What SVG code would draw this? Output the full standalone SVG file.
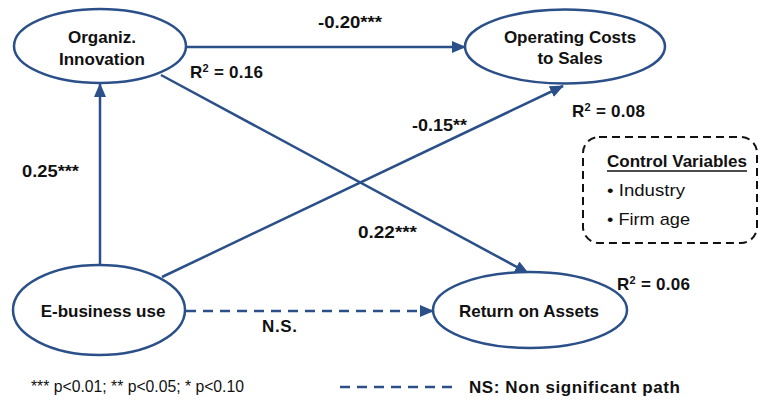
<svg xmlns="http://www.w3.org/2000/svg" width="761" height="401" viewBox="0 0 761 401">
<defs>
<marker id="ah" markerWidth="14" markerHeight="12" refX="13" refY="6" orient="auto" markerUnits="userSpaceOnUse">
<path d="M0,0 L14,6 L0,12 Z" fill="#2B5089"/>
</marker>
<style>
.node ellipse{fill:#fff;stroke:#2B5089;stroke-width:2.5}
.lbl{font-family:"Liberation Sans",Arial,sans-serif;font-weight:bold;font-size:17px;fill:#111;text-anchor:middle}
.coef{font-family:"Liberation Sans",Arial,sans-serif;font-weight:bold;font-size:17px;fill:#111}
.reg{font-family:"Liberation Sans",Arial,sans-serif;font-size:17px;fill:#111}
.foot{font-family:"Liberation Sans",Arial,sans-serif;font-size:15.8px;fill:#111}
.edge{stroke:#2B5089;stroke-width:2.5;fill:none}
.dash{stroke-dasharray:10,7}
</style>
</defs>
<rect width="761" height="401" fill="#fff"/>
<g id="connectors">
<line class="edge" x1="186" y1="47" x2="465" y2="47" marker-end="url(#ah)"/>
<line class="edge" x1="100" y1="265" x2="100" y2="84" marker-end="url(#ah)"/>
<line class="edge" x1="162" y1="277" x2="563" y2="86" marker-end="url(#ah)"/>
<line class="edge" x1="161" y1="75" x2="528" y2="273" marker-end="url(#ah)"/>
<line class="edge dash" x1="186" y1="311" x2="433" y2="311" marker-end="url(#ah)"/>
</g>
<g id="org" class="node">
<ellipse cx="100" cy="46" rx="86" ry="37"/>
<text class="lbl" x="102" y="43">Organiz.</text>
<text class="lbl" x="102" y="65">Innovation</text>
</g>
<g id="opcost" class="node">
<ellipse cx="565" cy="46.5" rx="100" ry="37"/>
<text class="lbl" x="570" y="43">Operating Costs</text>
<text class="lbl" x="570" y="64">to Sales</text>
</g>
<g id="ebiz" class="node">
<ellipse cx="99" cy="310" rx="86" ry="45"/>
<text class="lbl" x="103" y="317">E-business use</text>
</g>
<g id="roa" class="node">
<ellipse cx="530" cy="310" rx="97" ry="38"/>
<text class="lbl" x="529" y="317">Return on Assets</text>
</g>
<g id="labels">
<text class="coef" x="318" y="28" textLength="64" lengthAdjust="spacingAndGlyphs">-0.20***</text>
<text class="coef" x="190" y="78" textLength="73">R<tspan font-size="11" dy="-6">2</tspan><tspan dy="6"> = 0.16</tspan></text>
<text class="coef" x="412" y="131" textLength="55" lengthAdjust="spacingAndGlyphs">-0.15**</text>
<text class="coef" x="572" y="117" textLength="73">R<tspan font-size="11" dy="-6">2</tspan><tspan dy="6"> = 0.08</tspan></text>
<text class="coef" x="22" y="177" textLength="57" lengthAdjust="spacingAndGlyphs">0.25***</text>
<text class="coef" x="358" y="238" textLength="59" lengthAdjust="spacingAndGlyphs">0.22***</text>
<text class="coef" x="617" y="290" textLength="73">R<tspan font-size="11" dy="-6">2</tspan><tspan dy="6"> = 0.06</tspan></text>
<text class="coef" x="262" y="332" textLength="35">N.S.</text>
</g>
<g id="controls">
<rect x="583" y="137" width="174" height="106" rx="16" fill="none" stroke="#111" stroke-width="2" stroke-dasharray="8,5"/>
<text class="coef" x="607" y="167" textLength="140" lengthAdjust="spacingAndGlyphs">Control Variables</text>
<line x1="607" y1="171" x2="747" y2="171" stroke="#111" stroke-width="1.5"/>
<text class="reg" x="607" y="196" textLength="78" lengthAdjust="spacingAndGlyphs">• Industry</text>
<text class="reg" x="607" y="225" textLength="83" lengthAdjust="spacingAndGlyphs">• Firm age</text>
</g>
<g id="legend">
<text class="foot" x="31" y="392" textLength="213" lengthAdjust="spacingAndGlyphs">*** p&lt;0.01; ** p&lt;0.05; * p&lt;0.10</text>
<line class="edge dash" x1="340" y1="387" x2="452" y2="387"/>
<text class="coef" x="469" y="393" textLength="211">NS: Non significant path</text>
</g>
</svg>
